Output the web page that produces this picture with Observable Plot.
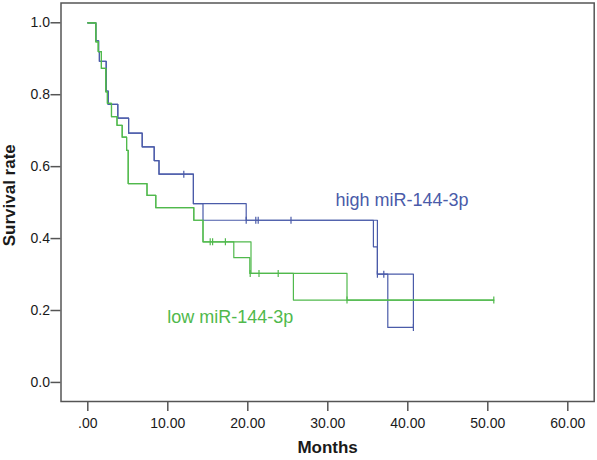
<!DOCTYPE html>
<html><head><meta charset="utf-8">
<script src="https://cdn.jsdelivr.net/npm/d3@7"></script>
<script src="https://cdn.jsdelivr.net/npm/@observablehq/plot@0.6"></script>
<style>body{margin:0;background:#fff} svg{display:block}</style>
</head><body><div id="chart"></div>
<script>
// Groups
const groups = ["high miR-144-3p", "low miR-144-3p"];
const groupColors = ["#4a5ba9", "#50b94c"];

// High miR-144-3p: shared steps, then two overlaid branches
const highTime = [0, 1.0, 1.35, 1.45, 2.3, 2.55, 3.75, 5.1, 6.8, 8.3, 8.9, 13.2];
const highSurv = [1.0, 0.95, 0.92, 0.893, 0.81, 0.773, 0.735, 0.693, 0.655, 0.617, 0.579, 0.497];
const highTimeA = [19.8, 35.7, 36.2, 37.5, 40.7];
const highSurvA = [0.451, 0.377, 0.301, 0.153, 0.153];
const highTimeB = [14.4, 36.2, 40.7];
const highSurvB = [0.451, 0.301, 0.153];
const highCensorTime = [12.0, 19.8, 21.0, 21.3, 25.4, 36.2, 37.0, 40.7];
const highCensorSurv = [0.579, 0.451, 0.451, 0.451, 0.451, 0.301, 0.301, 0.153];

// Low miR-144-3p
const lowTime = [0, 1.0, 1.3, 1.7, 2.25, 2.45, 2.96, 3.65, 4.3, 4.85, 5.05, 7.4, 8.5, 13.25, 14.4];
const lowSurv = [1.0, 0.947, 0.92, 0.873, 0.808, 0.776, 0.739, 0.715, 0.682, 0.645, 0.553, 0.52, 0.486, 0.451, 0.391];
const lowTimeA = [18.25, 20.25, 25.7, 50.75];
const lowSurvA = [0.347, 0.303, 0.229, 0.229];
const lowTimeB = [20.4, 32.4, 50.75];
const lowSurvB = [0.303, 0.229, 0.229];
const lowCensorTime = [15.3, 15.6, 17.2, 20.3, 21.4, 23.8, 32.4, 50.75];
const lowCensorSurv = [0.391, 0.391, 0.391, 0.303, 0.303, 0.303, 0.229, 0.229];

// Axis ticks
const xTicks = [0, 10, 20, 30, 40, 50, 60];
const xTickLabels = [".00", "10.00", "20.00", "30.00", "40.00", "50.00", "60.00"];
const yTicks = [0, 0.2, 0.4, 0.6, 0.8, 1.0];
const yTickLabels = ["0.0", "0.2", "0.4", "0.6", "0.8", "1.0"];

// Curve labels
const labelText = ["high miR-144-3p", "low miR-144-3p"];
const labelTime = [30.96, 9.92];
const labelSurv = [0.506, 0.181];

// Build tables
const rows = [];
function addPath(group, key, ts, ss) {
  ts.forEach((t, i) => rows.push({group, key, t, s: ss[i]}));
}
addPath(groups[0], "hA", highTime.concat(highTimeA), highSurv.concat(highSurvA));
addPath(groups[0], "hB", highTime.concat(highTimeB), highSurv.concat(highSurvB));
addPath(groups[1], "lA", lowTime.concat(lowTimeA), lowSurv.concat(lowSurvA));
addPath(groups[1], "lB", lowTime.concat(lowTimeB), lowSurv.concat(lowSurvB));

const censors = [];
highCensorTime.forEach((t, i) => censors.push({group: groups[0], t, s: highCensorSurv[i]}));
lowCensorTime.forEach((t, i) => censors.push({group: groups[1], t, s: lowCensorSurv[i]}));

const labels = labelText.map((text, i) => ({group: groups[i], text, t: labelTime[i], s: labelSurv[i]}));

const vbar = {
  draw(context, size) {
    const h = Math.sqrt(size / Math.PI);
    context.moveTo(0, -h);
    context.lineTo(0, h);
  }
};

const chart = Plot.plot({
  width: 597,
  height: 460,
  marginLeft: 60.5,
  marginRight: 3.3,
  marginTop: 2.5,
  marginBottom: 59,
  x: {domain: [-3.35, 63.3]},
  y: {domain: [-0.053, 1.055]},
  color: {domain: groups, range: groupColors},
  style: {fontFamily: "'Liberation Sans', Arial, sans-serif", background: "#fff", color: "#1a1a1a"},
  marks: [
    Plot.axisX({ticks: xTicks, tickFormat: (d) => xTickLabels[xTicks.indexOf(d)], tickSize: 10, tickPadding: 7, fontSize: 14, label: null, stroke: "#555", strokeWidth: 1.5}),
    Plot.axisY({ticks: yTicks, tickFormat: (d) => yTickLabels[yTicks.indexOf(d)], tickSize: 10, tickPadding: 1, fontSize: 14, label: null, stroke: "#555", strokeWidth: 1.5}),
    Plot.frame({stroke: "#555", strokeWidth: 1.5}),
    Plot.line(rows, {x: "t", y: "s", z: "key", stroke: "group", curve: "step-after", strokeWidth: 1.2}),
    Plot.dot(censors, {x: "t", y: "s", stroke: "group", symbol: vbar, r: 3.5, strokeWidth: 1.2, fill: "none"}),
    Plot.text(labels, {x: "t", y: "s", text: "text", fill: "group", textAnchor: "start", lineAnchor: "middle", fontSize: 18}),
    Plot.text(["Months"], {frameAnchor: "bottom", dy: 46, textAnchor: "middle", lineAnchor: "middle", fontSize: 17, fontWeight: "bold", fill: "#1a1a1a"}),
    Plot.text(["Survival rate"], {frameAnchor: "left", dx: -51, dy: -7, rotate: -90, textAnchor: "middle", lineAnchor: "middle", fontSize: 17, fontWeight: "bold", fill: "#1a1a1a"})
  ]
});
document.getElementById("chart").appendChild(chart);
</script>
</body></html>
